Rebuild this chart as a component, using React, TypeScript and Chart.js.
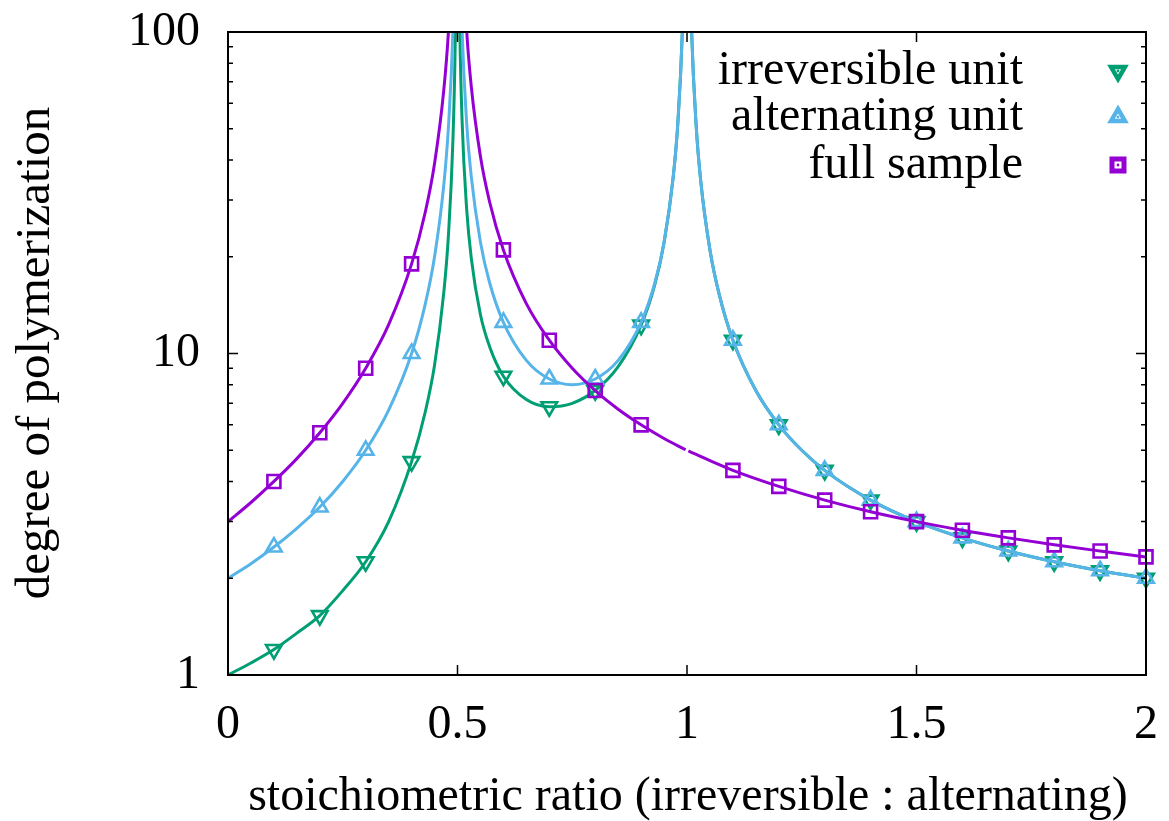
import React, { useEffect, useRef } from "react";
import { Chart, registerables } from "chart.js";

Chart.register(...registerables);

const FONT = "'Liberation Serif', 'Times New Roman', serif";
const FONT_SIZE = 48;
const GREEN = "#009e73";
const BLUE = "#56b4e9";
const PURPLE = "#9400d3";

const xTickValues = [0, 0.5, 1, 1.5, 2];
const yTickLabels = [1, 10, 100];
const seriesNames = ["irreversible unit", "alternating unit", "full sample"];
const xTitle = "stoichiometric ratio (irreversible : alternating)";
const yTitle = "degree of polymerization";

// smooth curves (null = break at divergence)
const irrCurve: [number, number | null][] = [
  [0, 1], [0.05, 1.09], [0.1, 1.2], [0.15, 1.35], [0.2, 1.53], [0.25, 1.83], [0.3, 2.25],
  [0.35, 3.0], [0.4, 4.61], [0.43, 6.6], [0.45, 9.2], [0.47, 15.4], [0.48, 23], [0.49, 46],
  [0.495, 92], [0.498, 230], [0.5, null],
  [0.502, 253], [0.505, 103], [0.51, 53], [0.52, 28.1], [0.53, 19.8], [0.55, 13.2], [0.57, 10.5],
  [0.6, 8.5], [0.65, 7.19], [0.7, 6.83], [0.75, 7.0], [0.8, 7.67], [0.85, 9.1], [0.9, 12.25],
  [0.93, 16.4], [0.95, 22.1], [0.97, 35.4], [0.98, 52], [0.99, 102], [0.995, 202], [1.0, null],
  [1.005, 201], [1.01, 101], [1.02, 51], [1.03, 34.3], [1.05, 21], [1.07, 15.3], [1.1, 11],
  [1.15, 7.67], [1.2, 6], [1.25, 5], [1.3, 4.33], [1.4, 3.5], [1.5, 3], [1.6, 2.67],
  [1.7, 2.43], [1.8, 2.25], [1.9, 2.11], [2.0, 2],
];

const altCurve: [number, number | null][] = [
  [0, 2], [0.05, 2.22], [0.1, 2.5], [0.15, 2.86], [0.2, 3.33], [0.25, 4], [0.3, 5], [0.35, 6.67],
  [0.4, 10], [0.43, 14.3], [0.45, 20], [0.47, 33.3], [0.48, 50], [0.49, 100], [0.495, 200],
  [0.5, null],
  [0.505, 202], [0.51, 102], [0.52, 52.1], [0.53, 35.5], [0.55, 22.2], [0.57, 16.6], [0.6, 12.5],
  [0.65, 9.52], [0.7, 8.33], [0.75, 8], [0.8, 8.33], [0.85, 9.52], [0.9, 12.5], [0.93, 16.6],
  [0.95, 22.2], [0.97, 35.5], [0.98, 52.1], [0.99, 102], [0.995, 202], [1.0, null],
  [1.005, 201], [1.01, 101], [1.02, 51], [1.03, 34.3], [1.05, 21], [1.07, 15.3], [1.1, 11],
  [1.15, 7.67], [1.2, 6], [1.25, 5], [1.3, 4.33], [1.4, 3.5], [1.5, 3], [1.6, 2.67],
  [1.7, 2.43], [1.8, 2.25], [1.9, 2.11], [2.0, 2],
];

const fullCurve: [number, number | null][] = [
  [0, 3], [0.05, 3.44], [0.1, 4], [0.15, 4.71], [0.2, 5.67], [0.25, 7], [0.3, 9], [0.35, 12.3],
  [0.4, 19], [0.43, 27.6], [0.45, 39], [0.47, 65.7], [0.48, 99], [0.49, 199], [0.5, null],
  [0.51, 201], [0.52, 101], [0.53, 67.7], [0.55, 41], [0.57, 29.6], [0.6, 21], [0.65, 14.3],
  [0.7, 11], [0.75, 9], [0.8, 7.67], [0.85, 6.71], [0.9, 6], [0.95, 5.44], [0.997, 5.02],
  [1.0, null], [1.003, 4.98], [1.05, 4.64], [1.1, 4.33], [1.2, 3.86], [1.3, 3.5], [1.4, 3.22],
  [1.5, 3], [1.6, 2.82], [1.7, 2.67], [1.8, 2.54], [1.9, 2.43], [2.0, 2.33],
];

// sampled points (markers)
const irrPoints: [number, number][] = [
  [0.1, 1.2], [0.2, 1.53], [0.3, 2.25], [0.4, 4.61], [0.6, 8.5], [0.7, 6.83], [0.8, 7.67],
  [0.9, 12.25], [1.1, 11], [1.2, 6], [1.3, 4.33], [1.4, 3.5], [1.5, 3], [1.6, 2.67],
  [1.7, 2.43], [1.8, 2.25], [1.9, 2.11], [2.0, 2],
];
const altPoints: [number, number][] = [
  [0.1, 2.5], [0.2, 3.33], [0.3, 5], [0.4, 10], [0.6, 12.5], [0.7, 8.33], [0.8, 8.33],
  [0.9, 12.5], [1.1, 11], [1.2, 6], [1.3, 4.33], [1.4, 3.5], [1.5, 3], [1.6, 2.67],
  [1.7, 2.43], [1.8, 2.25], [1.9, 2.11], [2.0, 2],
];
const fullPoints: [number, number][] = [
  [0.1, 4], [0.2, 5.67], [0.3, 9], [0.4, 19], [0.6, 21], [0.7, 11], [0.8, 7.67], [0.9, 6],
  [1.1, 4.33], [1.2, 3.86], [1.3, 3.5], [1.4, 3.22], [1.5, 3], [1.6, 2.82], [1.7, 2.67],
  [1.8, 2.54], [1.9, 2.43], [2.0, 2.33],
];

const toXY = (arr: [number, number | null][]) => arr.map(([x, y]) => ({ x, y }));

function drawMarker(ctx: CanvasRenderingContext2D, kind: string, x: number, y: number, color: string) {
  ctx.save();
  ctx.strokeStyle = color;
  ctx.fillStyle = color;
  ctx.lineJoin = "miter";
  ctx.beginPath();
  if (kind === "down") {
    const r = 8;
    ctx.lineWidth = 4.5;
    ctx.moveTo(x, y + r);
    ctx.lineTo(x - r * 0.866, y - r / 2);
    ctx.lineTo(x + r * 0.866, y - r / 2);
    ctx.closePath();
  } else if (kind === "up") {
    const r = 8;
    ctx.lineWidth = 4.5;
    ctx.moveTo(x, y - r);
    ctx.lineTo(x - r * 0.866, y + r / 2);
    ctx.lineTo(x + r * 0.866, y + r / 2);
    ctx.closePath();
  } else {
    const s = 6;
    ctx.lineWidth = 5;
    ctx.rect(x - s, y - s, 2 * s, 2 * s);
  }
  ctx.stroke();
  ctx.beginPath();
  ctx.arc(x, y, 1.4, 0, Math.PI * 2);
  ctx.fill();
  ctx.restore();
}

const framePlugin = {
  id: "gnuFrame",
  afterDatasetsDraw(chart: any) {
    const { ctx, chartArea: a, scales } = chart;
    ctx.save();
    ctx.strokeStyle = "#000";
    ctx.lineWidth = 1.5;
    ctx.beginPath();
    for (const v of xTickValues) {
      const px = scales.x.getPixelForValue(v);
      ctx.moveTo(px, a.bottom);
      ctx.lineTo(px, a.bottom - 10);
      ctx.moveTo(px, a.top);
      ctx.lineTo(px, a.top + 10);
    }
    for (const d of [1, 10]) {
      for (let m = 1; m <= 10; m++) {
        const v = d * m;
        const py = scales.y.getPixelForValue(v);
        const len = m === 1 || m === 10 ? 10 : 5;
        ctx.moveTo(a.left, py);
        ctx.lineTo(a.left + len, py);
        ctx.moveTo(a.right, py);
        ctx.lineTo(a.right - len, py);
      }
    }
    ctx.stroke();
    ctx.lineWidth = 2;
    ctx.strokeRect(a.left, a.top, a.right - a.left, a.bottom - a.top);
    ctx.restore();
  },
  afterDraw(chart: any) {
    const { ctx } = chart;
    ctx.save();
    ctx.fillStyle = "#000";
    ctx.font = `${FONT_SIZE}px ${FONT}`;
    // axis titles
    ctx.textAlign = "center";
    ctx.textBaseline = "middle";
    ctx.fillText(xTitle, 688, 797);
    ctx.save();
    ctx.font = `49px ${FONT}`;
    ctx.translate(36, 353);
    ctx.rotate(-Math.PI / 2);
    ctx.fillText(yTitle, 0, 0);
    ctx.restore();
    // legend
    const kinds = ["down", "up", "square"];
    const colors = [GREEN, BLUE, PURPLE];
    const rows = [71, 117, 165];
    ctx.textAlign = "right";
    for (let i = 0; i < seriesNames.length; i++) {
      ctx.fillStyle = "#000";
      ctx.fillText(seriesNames[i], 1023, rows[i]);
      drawMarker(ctx, kinds[i], 1118, rows[i], colors[i]);
    }
    ctx.restore();
  },
};

export default function App() {
  const ref = useRef<HTMLCanvasElement | null>(null);
  useEffect(() => {
    if (!ref.current) return;
    const lineDs = (data: any, color: string, order: number) => ({
      data: toXY(data),
      borderColor: color,
      backgroundColor: color,
      borderWidth: 3,
      pointRadius: 0,
      cubicInterpolationMode: "monotone" as const,
      spanGaps: false,
      order,
      clip: 0,
    });
    const markDs = (data: any, color: string, style: string, rot: number, radius: number, order: number) => ({
      data: toXY(data),
      showLine: false,
      borderColor: color,
      backgroundColor: "rgba(0,0,0,0)",
      pointStyle: style,
      pointRotation: rot,
      pointRadius: radius,
      pointBorderWidth: 2.6,
      order,
      clip: false as const,
    });
    const chart = new Chart(ref.current, {
      type: "line",
      data: {
        datasets: [
          lineDs(irrCurve, GREEN, 6),
          markDs(irrPoints, GREEN, "triangle", 180, 9, 5),
          lineDs(altCurve, BLUE, 4),
          markDs(altPoints, BLUE, "triangle", 0, 9, 3),
          lineDs(fullCurve, PURPLE, 2),
          markDs(fullPoints, PURPLE, "rect", 0, 9.2, 1),
        ] as any,
      },
      options: {
        animation: false,
        responsive: false,
        events: [],
        layout: { padding: { top: 32, right: 23, left: 0, bottom: 0 } },
        plugins: { legend: { display: false }, tooltip: { enabled: false } },
        scales: {
          x: {
            type: "linear",
            min: 0,
            max: 2,
            grid: { display: false, drawTicks: false },
            border: { display: false },
            ticks: {
              stepSize: 0.5,
              autoSkip: false,
              maxRotation: 0,
              padding: 22,
              color: "#000",
              font: { family: FONT, size: FONT_SIZE },
              callback: (v: any) => String(v),
            },
            afterFit: (s: any) => {
              s.height = 146;
              s.paddingLeft = 0;
              s.paddingRight = 0;
              s.paddingTop = 0;
              s.paddingBottom = 0;
            },
          },
          y: {
            type: "logarithmic",
            min: 1,
            max: 100,
            grid: { display: false, drawTicks: false },
            border: { display: false },
            ticks: {
              autoSkip: false,
              padding: 28,
              color: "#000",
              font: { family: FONT, size: FONT_SIZE },
              callback: (v: any) => (yTickLabels.includes(Number(v)) ? String(v) : ""),
            },
            afterFit: (s: any) => {
              s.width = 228;
              s.paddingLeft = 0;
              s.paddingRight = 0;
              s.paddingTop = 0;
              s.paddingBottom = 0;
            },
          },
        },
      },
      plugins: [framePlugin],
    });
    return () => chart.destroy();
  }, []);
  return (
    <div style={{ position: "absolute", left: 0, top: 0, width: 1169, height: 821, background: "#fff" }}>
      <canvas ref={ref} width={1169} height={821} style={{ width: 1169, height: 821 }} />
    </div>
  );
}
